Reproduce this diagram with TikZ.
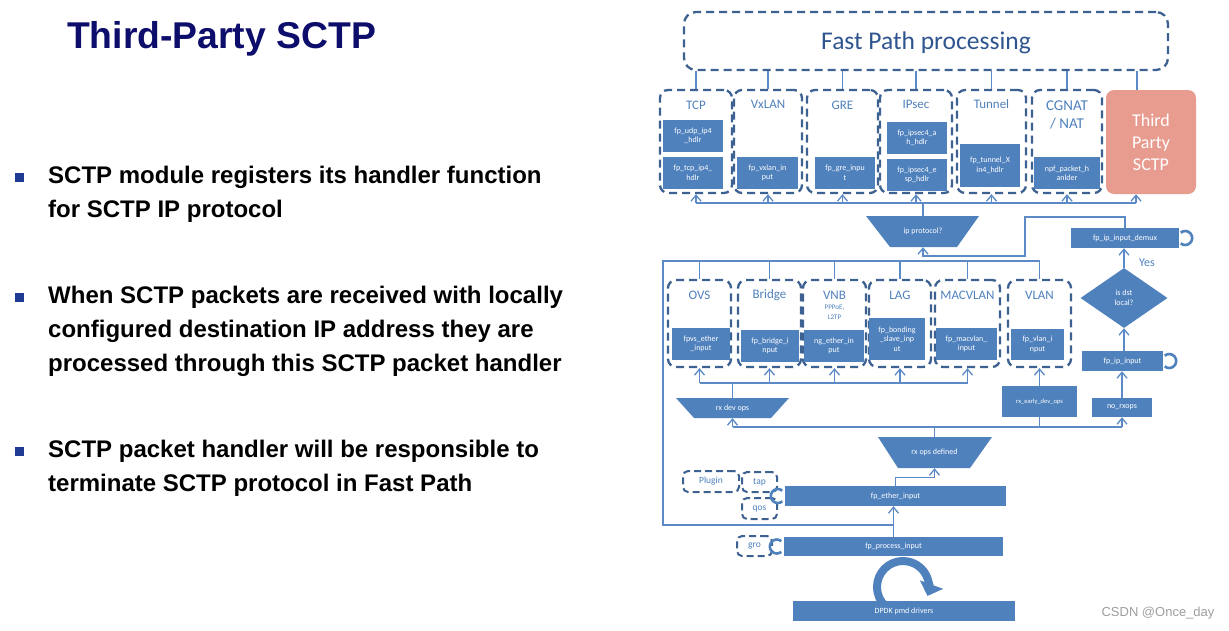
\documentclass[tikz,border=0pt]{standalone}
\usepackage{fontspec}
\setmainfont{Liberation Sans}
\newfontfamily\dfont{Carlito}
\usetikzlibrary{arrows.meta,calc,shapes.geometric}
\definecolor{fpblue}{HTML}{4F81BD}
\definecolor{dashc}{HTML}{3D6190}
\definecolor{linec}{HTML}{5B8AC6}
\definecolor{titlec}{HTML}{0D0D6B}
\definecolor{bulletc}{HTML}{1F3A93}
\definecolor{salmon}{HTML}{E89C8F}
\definecolor{fptext}{HTML}{2F5590}
\definecolor{lbl}{HTML}{4F81BD}
\tikzset{
  fbox/.style={fill=fpblue, text=white, inner sep=0pt, align=center, font=\dfont\fontsize{8}{9.5}\selectfont},
  dbox/.style={draw=dashc, line width=2.3pt, dash pattern=on 8pt off 5pt, rounded corners=8pt, inner sep=0pt},
  sbox/.style={draw=dashc, line width=2pt, dash pattern=on 7pt off 4pt, rounded corners=5pt, inner sep=0pt, text=lbl, font=\dfont\fontsize{9.5}{11}\selectfont},
  dtitle/.style={text=lbl, font=\dfont\fontsize{13}{15}\selectfont, inner sep=0pt, align=center},
  conn/.style={draw=linec, line width=1.3pt},
  arr/.style={conn, -{Straight Barb[length=6pt,width=10pt]}},
  loopc/.style={draw=fpblue, line width=2.6pt},
  trtext/.style={inner sep=0pt, text=white, font=\dfont\fontsize{8}{9.5}\selectfont},
  bul/.style={fill=bulletc, minimum size=9, inner sep=0pt},
  btext/.style={anchor=base west, inner sep=0pt, font=\bfseries\fontsize{24}{28}\selectfont},
}
\begin{document}
\begin{tikzpicture}[x=1pt,y=-1pt]
\fill[white] (0,0) rectangle (1229,630);
\useasboundingbox (0,0) rectangle (1229,630);

% ---------- left text ----------
\node[anchor=base west, inner sep=0pt, text=titlec, font=\bfseries\fontsize{37.3}{44}\selectfont] (title) at (67,48) {Third-Party SCTP};
\node[bul] (bu1) at (19,177) {};
\node[btext] (l11) at (48,183) {SCTP module registers its handler function};
\node[btext] (l12) at (48,217) {for SCTP IP protocol};
\node[bul] (bu2) at (19,297) {};
\node[btext] (l21) at (48,303) {When SCTP packets are received with locally};
\node[btext] (l22) at (48,337) {configured destination IP address they are};
\node[btext] (l23) at (48,371) {processed through this SCTP packet handler};
\node[bul] (bu3) at (19,451) {};
\node[btext] (l31) at (48,457) {SCTP packet handler will be responsible to};
\node[btext] (l32) at (48,491) {terminate SCTP protocol in Fast Path};

% ---------- Fast path ----------
\node[dbox, rounded corners=12pt, minimum width=484, minimum height=58] (fp) at (926,41) {};
\node[inner sep=0pt, text=fptext, font=\dfont\fontsize{25.5}{30}\selectfont] (fpT) at (926,43) {Fast Path processing};

% upper row
\node[dbox, minimum width=72, minimum height=103] (tcp) at (696,141.5) {};
\node[dtitle] (tcpT) at (696,105) {TCP};
\node[fbox, minimum width=60, minimum height=32] (udp) at (693,136) {fp\_udp\_ip4\\\_hdlr};
\node[fbox, minimum width=60, minimum height=32] (tcpin) at (693,173) {fp\_tcp\_ip4\_\\hdlr};

\node[dbox, minimum width=68, minimum height=103] (vx) at (768,141.5) {};
\node[dtitle] (vxT) at (768,104) {VxLAN};
\node[fbox, minimum width=61, minimum height=32] (vxin) at (767.5,173) {fp\_vxlan\_in\\put};

\node[dbox, minimum width=71, minimum height=103] (gre) at (842.5,141.5) {};
\node[dtitle] (greT) at (842.5,105) {GRE};
\node[fbox, minimum width=60, minimum height=32] (grein) at (845,173) {fp\_gre\_inpu\\t};

\node[dbox, minimum width=72, minimum height=103] (ips) at (916,141.5) {};
\node[dtitle] (ipsT) at (916,104) {IPsec};
\node[fbox, minimum width=60, minimum height=32] (ah) at (917,138) {fp\_ipsec4\_a\\h\_hdlr};
\node[fbox, minimum width=60, minimum height=32] (esp) at (917,175) {fp\_ipsec4\_e\\sp\_hdlr};

\node[dbox, minimum width=69, minimum height=103] (tun) at (991.5,141.5) {};
\node[dtitle] (tunT) at (991.5,104) {Tunnel};
\node[fbox, minimum width=60, minimum height=43] (tunin) at (990,165.5) {fp\_tunnel\_X\\in4\_hdlr};

\node[dbox, minimum width=70, minimum height=103] (cg) at (1067,141.5) {};
\node[dtitle, font=\dfont\fontsize{15}{18}\selectfont] (cgT) at (1067,115) {CGNAT\\/ NAT};
\node[fbox, minimum width=66, minimum height=32] (npf) at (1067,173) {npf\_packet\_h\\anlder};

\node[fill=salmon, rounded corners=8pt, minimum width=90, minimum height=104, inner sep=0pt, text=white, align=center, font=\dfont\fontsize{18}{22}\selectfont] (sctp) at (1151,142) {Third\\Party\\SCTP};

\coordinate (sctpT) at ($(sctp.north)+(-14,0)$);
\coordinate (sctpB) at ($(sctp.south)+(-15,0)$);
\foreach \n in {tcp,vx,gre,ips,tun,cg} {\draw[conn] (\n.north) -- (\n.north |- fp.south);}
\draw[conn] (sctpT) -- (sctpT |- fp.south);

% bus under upper row
\coordinate (b1L) at (696,203);
\draw[conn] (b1L) -- (sctpB |- b1L);
\foreach \n in {tcp,vx,gre,ips,tun,cg} {\draw[arr] (\n.south |- b1L) -- (\n.south);}
\draw[arr] (sctpB |- b1L) -- (sctpB);

% ip protocol?
\fill[fpblue] (866,216) -- (979,216) -- (957,247) -- (890,247) -- cycle;
\node[trtext, minimum width=113, minimum height=31] (ipp) at (923,231.5) {ip protocol?};
\draw[conn] (ipp.north) -- (ipp.north |- b1L);

% right column
\node[fbox, minimum width=108, minimum height=20] (demux) at (1125,238) {fp\_ip\_input\_demux};
\node[diamond, fill=fpblue, minimum width=87, minimum height=60, inner sep=0pt, text=white, align=center, font=\dfont\fontsize{8}{10}\selectfont] (dst) at (1124,298) {is dst\\local?};
\node[dtitle, font=\dfont\fontsize{12}{14}\selectfont] (yes) at (1147,263) {Yes};
\node[fbox, minimum width=81, minimum height=20] (fpip) at (1122.5,361) {fp\_ip\_input};
\node[fbox, minimum width=60, minimum height=19] (norx) at (1122,407.5) {no\_rxops};
\node[fbox, minimum width=75, minimum height=31, font=\dfont\fontsize{6.5}{8}\selectfont] (rxearly) at (1039.5,401.5) {rx\_early\_dev\_ops};

\coordinate (j1) at (1025,217);
\coordinate (j2) at (1025,256);
\draw[arr] (demux.north) |- (j1) -- (j2) -| (ipp.south);
\draw[arr] (dst.north) -- (dst.north |- demux.south);
\draw[arr] (dst.south |- fpip.north) -- (dst.south);
\draw[arr] (norx.north) -- (norx.north |- fpip.south);
\draw[loopc] ($(demux.east)+(6,0)$) ++(130:7pt) arc[start angle=130, end angle=-130, radius=7pt];
\draw[loopc] ($(fpip.east)+(6,0)$) ++(130:7pt) arc[start angle=130, end angle=-130, radius=7pt];

% lower row
\node[dbox, minimum width=63, minimum height=87] (ovs) at (699.5,323.5) {};
\node[dtitle] (ovsT) at (699.5,295) {OVS};
\node[fbox, minimum width=58, minimum height=32] (fpvs) at (701,344) {fpvs\_ether\\\_input};

\node[dbox, minimum width=63, minimum height=87] (br) at (769.5,323.5) {};
\node[dtitle] (brT) at (769.5,295) {Bridge};
\node[fbox, minimum width=58, minimum height=32] (brin) at (770,346) {fp\_bridge\_i\\nput};

\node[dbox, minimum width=63, minimum height=87] (vnb) at (834.5,323.5) {};
\node[dtitle] (vnbT) at (834.5,295) {VNB};
\node[dtitle, font=\dfont\fontsize{7}{10}\selectfont] (vnbS) at (834.5,312) {PPPoE,\\L2TP};
\node[fbox, minimum width=60, minimum height=32] (ngin) at (834,346) {ng\_ether\_in\\put};

\node[dbox, minimum width=62, minimum height=87] (lag) at (900,323.5) {};
\node[dtitle] (lagT) at (900,295) {LAG};
\node[fbox, minimum width=56, minimum height=42] (bond) at (897,339) {fp\_bonding\\\_slave\_inp\\ut};

\node[dbox, minimum width=65, minimum height=87] (mac) at (967.5,323.5) {};
\node[dtitle] (macT) at (967.5,295) {MACVLAN};
\node[fbox, minimum width=61, minimum height=32] (macin) at (966.5,344) {fp\_macvlan\_\\input};

\node[dbox, minimum width=63, minimum height=87] (vlan) at (1039.5,323.5) {};
\node[dtitle] (vlanT) at (1039.5,295) {VLAN};
\node[fbox, minimum width=53, minimum height=31] (vlanin) at (1037.5,344.5) {fp\_vlan\_i\\nput};

% rx dev ops / rx ops defined
\fill[fpblue] (676,398) -- (789,398) -- (771,418) -- (694,418) -- cycle;
\node[trtext, minimum width=113, minimum height=20] (rxdev) at (732.5,408) {rx dev ops};
\fill[fpblue] (878,437) -- (992,437) -- (970,468) -- (898,468) -- cycle;
\node[trtext, minimum width=114, minimum height=31] (rxops) at (934.5,452.5) {rx ops defined};

% bottom boxes
\node[fbox, minimum width=221, minimum height=20] (fpeth) at (895.5,496) {fp\_ether\_input};
\node[fbox, minimum width=219, minimum height=19] (fpproc) at (893.5,546.5) {fp\_process\_input};
\node[sbox, minimum width=56, minimum height=21] (plug) at (711,481.5) {Plugin};
\node[sbox, minimum width=35, minimum height=20] (tap) at (759.5,482) {tap};
\node[sbox, minimum width=35, minimum height=21] (qos) at (759.5,508.5) {qos};
\node[sbox, minimum width=35, minimum height=20] (gro) at (754.5,546) {gro};
\draw[loopc] ($(fpeth.west)+(-7,0)$) ++(50:7pt) arc[start angle=50, end angle=310, radius=7pt];
\draw[loopc] ($(fpproc.west)+(-7,0)$) ++(50:7pt) arc[start angle=50, end angle=310, radius=7pt];

\coordinate (rc) at (903,587);
\draw[draw=fpblue, line width=8pt, -{Triangle[width=24pt,length=12pt]}] (rc) ++(260:26pt) arc[start angle=260, end angle=-20, radius=26pt];
\node[fbox, minimum width=222, minimum height=20] (dpdk) at (904,611) {DPDK pmd drivers};

% buses of the lower part
\coordinate (b2L) at (663,261);
\coordinate (lp) at (663,525);
\draw[conn] (vlan.north) -- (vlan.north |- b2L) -- (b2L) -- (lp) -- (lp -| fpproc.north);
\foreach \n in {ovs,br,vnb,lag,mac} {\draw[conn] (\n.north |- b2L) -- (\n.north);}

\coordinate (b3) at (0,383);
\draw[conn] (ovs.south |- b3) -- (mac.south |- b3);
\foreach \n in {ovs,br,vnb,lag,mac} {\draw[arr] (\n.south |- b3) -- (\n.south);}
\draw[conn] (rxdev.north) -- (rxdev.north |- b3);
\draw[arr] (rxearly.north) -- (vlan.south);

\coordinate (b4) at (0,427);
\draw[conn] (rxdev.south |- b4) -- (norx.south |- b4);
\draw[arr] (rxdev.south |- b4) -- (rxdev.south);
\draw[arr] (norx.south |- b4) -- (norx.south);
\draw[conn] (rxearly.south) -- (rxearly.south |- b4);
\draw[conn] (rxops.north) -- (rxops.north |- b4);

\draw[arr] (fpeth.north) |- ($(rxops.south)+(0,9)$) -- (rxops.south);
\draw[arr] (fpproc.north) -- (fpproc.north |- fpeth.south);

% watermark
\node[text=gray!75, inner sep=0pt, font=\fontsize{13}{15}\selectfont] (wm) at (1158,613) {CSDN @Once\_day};
\end{tikzpicture}
\end{document}
